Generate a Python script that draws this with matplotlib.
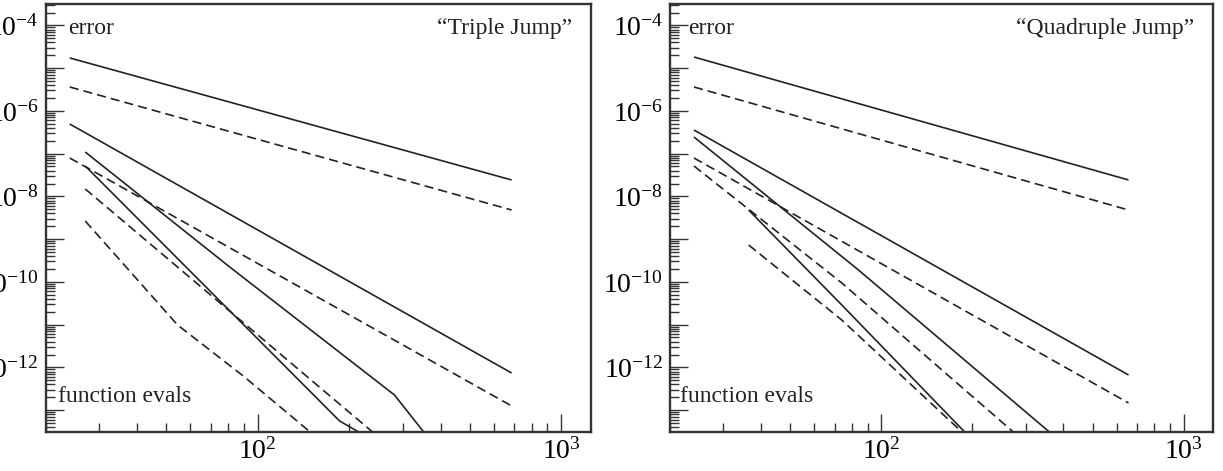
import matplotlib
matplotlib.use("Agg")
import matplotlib.pyplot as plt
from matplotlib.ticker import FixedLocator, LogLocator, FuncFormatter, NullFormatter
import numpy as np

plt.rcParams['font.family'] = ['Liberation Serif', 'DejaVu Serif']
plt.rcParams['mathtext.fontset'] = 'custom'
plt.rcParams['mathtext.rm'] = 'Liberation Serif'
plt.rcParams['mathtext.it'] = 'Liberation Serif:italic'
plt.rcParams['mathtext.bf'] = 'Liberation Serif:bold'

# ---------------- data (function evals vs. error) ----------------
panel_titles = ["\u201cTriple Jump\u201d", "\u201cQuadruple Jump\u201d"]
x_label_text = "function evals"
y_label_text = "error"

# Triple Jump
tj_solid1_x = [24, 686]
tj_solid1_y = [1.73e-5, 2.42e-8]
tj_dash1_x = [24, 686]
tj_dash1_y = [3.62e-6, 4.80e-9]
tj_solid2_x = [24, 686]
tj_solid2_y = [4.93e-7, 7.38e-13]
tj_dash2_x = [24, 686]
tj_dash2_y = [7.91e-8, 1.25e-13]
tj_solid3_x = [27, 81, 282, 397]
tj_solid3_y = [1.09e-7, 2.2e-10, 2.26e-13, 1.05e-14]
tj_solid4_x = [27, 186, 252]
tj_solid4_y = [5.14e-8, 5.57e-14, 1.61e-14]
tj_dash3_x = [27, 272]
tj_dash3_y = [1.49e-8, 1.41e-14]
tj_dash4_x = [27, 54.4, 90.4, 146, 157]
tj_dash4_y = [2.65e-9, 9.80e-12, 5.96e-13, 3.43e-14, 2.11e-14]

# Quadruple Jump
qj_solid1_x = [24, 657]
qj_solid1_y = [1.82e-5, 2.42e-8]
qj_dash1_x = [24, 657]
qj_dash1_y = [3.62e-6, 4.80e-9]
qj_solid2_x = [24, 657]
qj_solid2_y = [3.57e-7, 6.64e-13]
qj_solid3_x = [24, 84, 358, 392]
qj_solid3_y = [2.45e-7, 1.90e-10, 3.16e-14, 1.84e-14]
qj_dash2_x = [24, 657]
qj_dash2_y = [7.91e-8, 1.47e-13]
qj_dash3_x = [24, 74, 272, 298]
qj_dash3_y = [5.14e-8, 9.42e-11, 3.16e-14, 1.79e-14]
qj_solid4_x = [36.4, 74, 188, 203]
qj_solid4_y = [4.80e-9, 2.88e-11, 3.16e-14, 1.79e-14]
qj_dash4_x = [36.4, 74, 184, 198]
qj_dash4_y = [7.29e-10, 1.28e-11, 3.16e-14, 1.79e-14]

tj_series = [
    (tj_solid1_x, tj_solid1_y, 'solid'),
    (tj_dash1_x, tj_dash1_y, 'dashed'),
    (tj_solid2_x, tj_solid2_y, 'solid'),
    (tj_dash2_x, tj_dash2_y, 'dashed'),
    (tj_solid3_x, tj_solid3_y, 'solid'),
    (tj_solid4_x, tj_solid4_y, 'solid'),
    (tj_dash3_x, tj_dash3_y, 'dashed'),
    (tj_dash4_x, tj_dash4_y, 'dashed'),
]
qj_series = [
    (qj_solid1_x, qj_solid1_y, 'solid'),
    (qj_dash1_x, qj_dash1_y, 'dashed'),
    (qj_solid2_x, qj_solid2_y, 'solid'),
    (qj_solid3_x, qj_solid3_y, 'solid'),
    (qj_dash2_x, qj_dash2_y, 'dashed'),
    (qj_dash3_x, qj_dash3_y, 'dashed'),
    (qj_solid4_x, qj_solid4_y, 'solid'),
    (qj_dash4_x, qj_dash4_y, 'dashed'),
]

x_limits = (20, 1250)
y_limits = (10 ** -13.5, 10 ** -3.5)
y_major_exps = list(range(-13, -3))
y_label_exps = [-12, -10, -8, -6, -4]
x_major = [1e2, 1e3]

W, H = 1223, 471
fig = plt.figure(figsize=(W / 100, H / 100), dpi=100)
bottom = 1 - 431.5 / H
height = 427.5 / H
ax1 = fig.add_axes([45.7 / W, bottom, 545 / W, height])
ax2 = fig.add_axes([670 / W, bottom, 543 / W, height])

line_color = '#222222'
spine_color = '#333333'


def yfmt(v, pos):
    e = int(round(np.log10(v)))
    if e in y_label_exps:
        return r'$\mathregular{10^{%d}}$' % e
    return ''


def xfmt(v, pos):
    e = int(round(np.log10(v)))
    return r'$\mathregular{10^{%d}}$' % e


def style(ax, series, title, err_x, fe_x):
    for xs, ys, ls in series:
        if ls == 'solid':
            ax.plot(xs, ys, color=line_color, lw=1.2, solid_capstyle='butt')
        else:
            ax.plot(xs, ys, color=line_color, lw=1.2, linestyle=(0, (5.5, 3.0)))
    ax.set_xscale('log')
    ax.set_yscale('log')
    ax.set_xlim(*x_limits)
    ax.set_ylim(*y_limits)
    ax.yaxis.set_major_locator(FixedLocator([10.0 ** e for e in y_major_exps]))
    ax.yaxis.set_major_formatter(FuncFormatter(yfmt))
    ax.yaxis.set_minor_locator(LogLocator(base=10, subs=np.arange(2, 10), numticks=50))
    ax.yaxis.set_minor_formatter(NullFormatter())
    ax.xaxis.set_major_locator(FixedLocator(x_major))
    ax.xaxis.set_major_formatter(FuncFormatter(xfmt))
    ax.xaxis.set_minor_locator(LogLocator(base=10, subs=np.arange(2, 10), numticks=50))
    ax.xaxis.set_minor_formatter(NullFormatter())
    ax.tick_params(which='major', direction='in', length=12.7, width=1.0,
                   color=spine_color, labelsize=20, top=False, right=False)
    ax.tick_params(which='minor', direction='in', length=6.7, width=1.0,
                   color=spine_color, top=False, right=False)
    ax.tick_params(axis='y', which='major', pad=5)
    ax.tick_params(axis='x', which='major', pad=5)
    for sp in ax.spines.values():
        sp.set_color(spine_color)
        sp.set_linewidth(1.7)
    ax.text(err_x, 0.93, y_label_text, transform=ax.transAxes, fontsize=17,
            ha='left', va='baseline', color='#222222')
    ax.text(fe_x, 0.0697, x_label_text, transform=ax.transAxes, fontsize=17,
            ha='left', va='baseline', color='#222222')
    ax.text(0.966, 0.93, title, transform=ax.transAxes, fontsize=17,
            ha='right', va='baseline', color='#222222')


style(ax1, tj_series, panel_titles[0], 0.041, 0.0226)
style(ax2, qj_series, panel_titles[1], 0.033, 0.018)

fig.savefig('out.png', dpi=100)
